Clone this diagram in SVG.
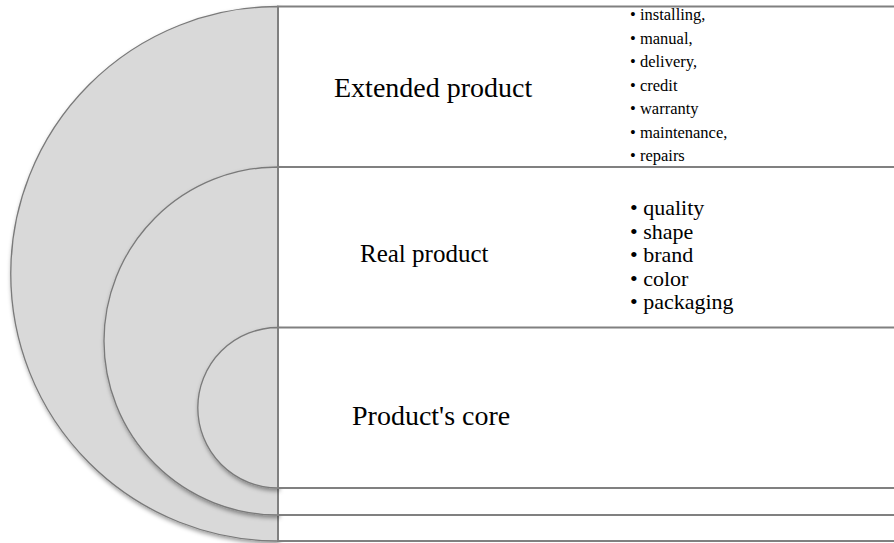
<svg xmlns="http://www.w3.org/2000/svg" width="894" height="543" viewBox="0 0 894 543">
<defs>
<style>
.ring{fill:#d9d9d9;stroke:#7a7a7a;stroke-width:1.3;filter:url(#sh)}
.box{fill:#ffffff;stroke:#808080;stroke-width:2}
.lbl{font-family:"Liberation Serif","Times New Roman",serif;font-size:28px;fill:#000}
.l1{font-family:"Liberation Serif","Times New Roman",serif;font-size:16.5px;fill:#000}
.l2{font-family:"Liberation Serif","Times New Roman",serif;font-size:22px;fill:#000}
</style>
<filter id="sh" x="-10%" y="-10%" width="130%" height="130%">
<feDropShadow dx="1" dy="2.5" stdDeviation="2" flood-color="#000" flood-opacity="0.4"/>
</filter>
</defs>
<rect width="894" height="543" fill="#ffffff"/>
<g id="extended">
<path class="ring" d="M278,6.5 A267.25,267.25 0 0 0 278,541 Z"/>
<rect class="box" x="278" y="6.5" width="630" height="534.5"/>
</g>
<g id="real">
<path class="ring" d="M278,167 A174,174 0 0 0 278,515 Z"/>
<rect class="box" x="278" y="167" width="630" height="348"/>
</g>
<g id="core">
<path class="ring" d="M278,327.5 A80.25,80.25 0 0 0 278,488 Z"/>
<rect class="box" x="278" y="327.5" width="630" height="160.5"/>
</g>
<g id="labels">
<text class="lbl" x="334" y="97">Extended product</text>
<text class="lbl" x="360" y="262" style="font-size:25px">Real product</text>
<text class="lbl" x="352" y="425">Product's core</text>
</g>
<g id="list-extended" class="l1">
<text x="630" y="20">• installing,</text>
<text x="630" y="43.5">• manual,</text>
<text x="630" y="67">• delivery,</text>
<text x="630" y="90.5">• credit</text>
<text x="630" y="114">• warranty</text>
<text x="630" y="137.5">• maintenance,</text>
<text x="630" y="161">• repairs</text>
</g>
<g id="list-real" class="l2">
<text x="630" y="215">• quality</text>
<text x="630" y="239">• shape</text>
<text x="630" y="262">• brand</text>
<text x="630" y="286">• color</text>
<text x="630" y="309">• packaging</text>
</g>
</svg>
